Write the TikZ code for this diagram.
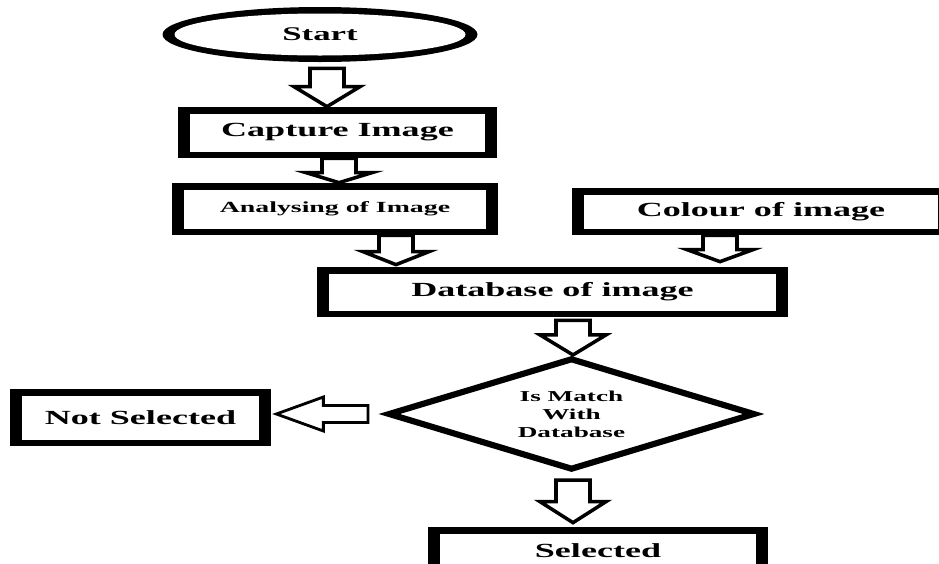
\documentclass[tikz,border=0pt]{standalone}
\usepackage{fontspec}
\setmainfont[FakeStretch=1.8]{Liberation Serif}
\usetikzlibrary{calc,shapes.geometric}

\newcommand{\fatdown}[3][0.34]{%
  \draw[fat] let \p1=#2, \p2=#3 in
    (\x1-0.34cm,\y1) -- (\x1+0.34cm,\y1) -- (\x1+0.34cm,\y2+#1cm) -- (\x1+0.66cm,\y2+#1cm)
    -- (\x1,\y2) -- (\x1-0.66cm,\y2+#1cm) -- (\x1-0.34cm,\y2+#1cm) -- cycle;}

\begin{document}
\begin{tikzpicture}[
      flowbox/.style={rectangle, fill=black, inner sep=0pt, font=\bfseries\fontsize{11.4}{13}\selectfont,
        path picture={\fill[white] ([shift={(0.24,0.13)}]path picture bounding box.south west)
          rectangle ([shift={(-0.24,-0.13)}]path picture bounding box.north east);}},
      terminal/.style={ellipse, fill=black, inner sep=0pt, font=\bfseries\fontsize{11}{13}\selectfont,
        minimum width=6.3cm, minimum height=1.1cm,
        path picture={\fill[white] (path picture bounding box.center) ellipse [x radius=2.91cm, y radius=0.42cm];}},
      decision/.style={diamond, draw, line width=3.5pt, inner sep=0pt, aspect=3.2, align=center,
        minimum width=7.34cm, minimum height=2.24cm, font=\bfseries\fontsize{8.6}{10.2}\selectfont},
      fat/.style={draw, fill=white, line width=2pt, line join=miter}
    ]
      \useasboundingbox (0,0) rectangle (18.78,-11.28);

      \node[terminal] (start) at (6.40,-0.69) {Start};
      \node[flowbox, minimum width=6.38cm, minimum height=1.02cm] (capture) at (6.75,-2.65) {Capture Image};
      \node[flowbox, minimum width=6.52cm, minimum height=1.04cm, font=\bfseries\fontsize{8.8}{10}\selectfont]
        (analys) at (6.70,-4.18) {Analysing of Image};
      \node[flowbox, minimum width=7.56cm, minimum height=0.94cm] (colour) at (15.22,-4.23) {Colour of image};
      \node[flowbox, minimum width=9.42cm, minimum height=1.0cm] (database) at (11.05,-5.84) {Database of image};
      \node[decision] (match) at (11.43,-8.28) {Is Match\\With\\Database};
      \node[flowbox, minimum width=5.22cm, minimum height=1.14cm] (notsel) at (2.81,-8.35) {Not Selected};
      \node[flowbox, minimum width=6.8cm, minimum height=0.96cm] (selected) at (11.96,-11.02) {Selected};

      \fatdown[0.4]{($(start.south)+(0.14,-0.12)$)}{(capture.north)}
      \fatdown[0.2]{($(capture.south)+(0.03,0)$)}{(analys.north)}
      \fatdown[0.26]{($(analys.south)+(1.22,0)$)}{($(database.north)+(0,0.04)$)}
      \fatdown[0.24]{($(colour.south)+(-0.82,0)$)}{($(database.north)+(0,0.1)$)}
      \fatdown[0.4]{($(database.south)+(0.41,-0.06)$)}{(match.north)}
      \fatdown[0.42]{($(match.south)+(0.03,-0.14)$)}{($(selected.north)+(0,0.08)$)}

      \draw[fat, line width=1.6pt] let \p1=($(match.west)+(-0.34,0)$), \p2=($(notsel.east)+(0.1,0)$) in
        (\x1,\y1+0.17cm) -- (\x2+0.94cm,\y1+0.17cm) -- (\x2+0.94cm,\y1+0.34cm) -- (\x2,\y1)
        -- (\x2+0.94cm,\y1-0.34cm) -- (\x2+0.94cm,\y1-0.17cm) -- (\x1,\y1-0.17cm) -- cycle;
    \end{tikzpicture}
\end{document}
